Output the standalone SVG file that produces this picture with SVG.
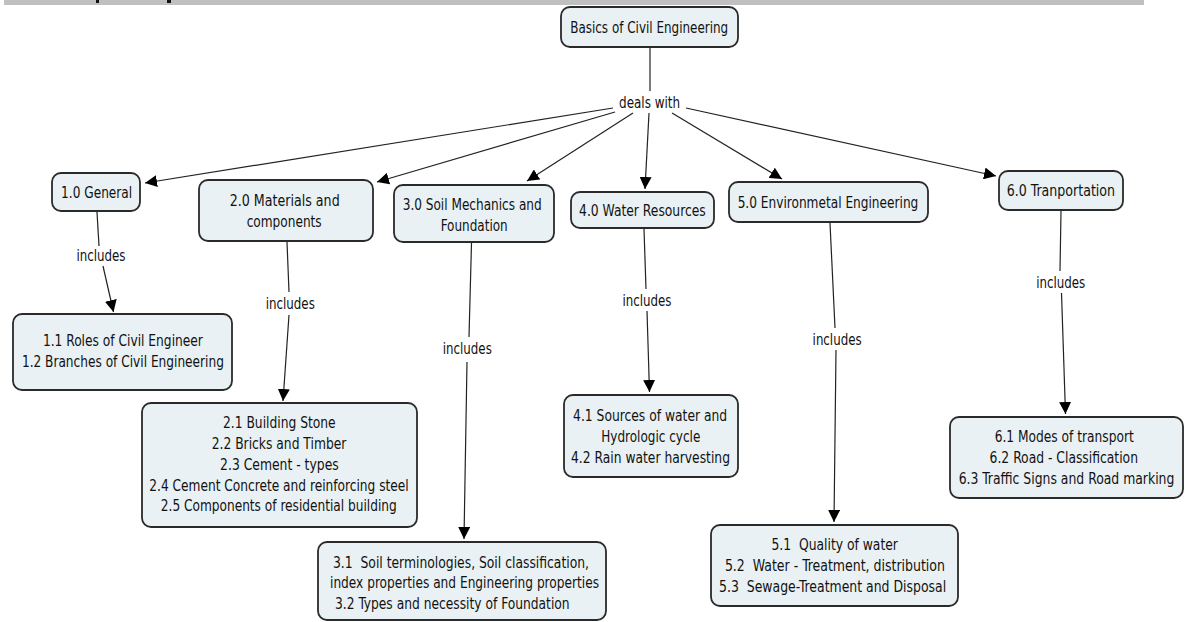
<svg xmlns="http://www.w3.org/2000/svg" width="1188" height="622" viewBox="0 0 1188 622">
<defs>
<marker id="arr" markerUnits="userSpaceOnUse" markerWidth="12" markerHeight="12" refX="12" refY="6" orient="auto">
<path d="M0,0 L12,6 L0,12 z" fill="#000"/>
</marker>
<style>
.box{fill:#e9f1f4;stroke:#2a2a2a;stroke-width:1.8}
.t{font-family:"DejaVu Sans Condensed","DejaVu Sans",sans-serif;font-size:16px;fill:#111;text-anchor:middle;white-space:pre}
.ts{font-family:"DejaVu Sans Condensed","DejaVu Sans",sans-serif;font-size:16px;fill:#111;text-anchor:start;white-space:pre}
.ln{stroke:#222;stroke-width:1.2;fill:none}
.ar{stroke:#222;stroke-width:1.2;fill:none;marker-end:url(#arr)}
</style>
</defs>
<rect width="1188" height="622" fill="#fff"/>
<g id="topbar">
<rect x="4" y="0" width="1140" height="5" fill="#c0c0c0"/>
<rect x="96" y="0" width="3" height="3" fill="#111"/>
<rect x="167" y="0" width="4" height="3" fill="#111"/>
</g>
<g id="connectors">
<line class="ln" x1="650" y1="47" x2="650" y2="91"/>
<text class="t" x="649.6" y="107.5" textLength="61" lengthAdjust="spacingAndGlyphs">deals with</text>
<line class="ar" x1="613" y1="108" x2="145" y2="183"/>
<line class="ar" x1="615" y1="112" x2="377" y2="182"/>
<line class="ar" x1="633" y1="113" x2="527" y2="181"/>
<line class="ar" x1="649" y1="113" x2="645" y2="189"/>
<line class="ar" x1="672" y1="113" x2="782" y2="179"/>
<line class="ar" x1="686" y1="108" x2="996" y2="176"/>
<line class="ln" x1="97" y1="212" x2="99" y2="246"/>
<text class="t" x="101" y="260.5" textLength="49" lengthAdjust="spacingAndGlyphs">includes</text>
<line class="ar" x1="103" y1="266" x2="113.5" y2="312"/>
<line class="ln" x1="287" y1="242" x2="289" y2="292"/>
<text class="t" x="290.3" y="308.5" textLength="49" lengthAdjust="spacingAndGlyphs">includes</text>
<line class="ar" x1="289" y1="315" x2="283" y2="401"/>
<line class="ln" x1="471.5" y1="243" x2="469" y2="337"/>
<text class="t" x="467.3" y="353.5" textLength="49" lengthAdjust="spacingAndGlyphs">includes</text>
<line class="ar" x1="467" y1="362" x2="464" y2="539"/>
<line class="ln" x1="644" y1="229" x2="646" y2="289"/>
<text class="t" x="647" y="305.5" textLength="49" lengthAdjust="spacingAndGlyphs">includes</text>
<line class="ar" x1="647" y1="311" x2="649.5" y2="392"/>
<line class="ln" x1="830" y1="223" x2="835" y2="328"/>
<text class="t" x="837.1" y="344.5" textLength="49" lengthAdjust="spacingAndGlyphs">includes</text>
<line class="ar" x1="836" y1="350" x2="834" y2="522"/>
<line class="ln" x1="1061" y1="211" x2="1060" y2="271"/>
<text class="t" x="1060.7" y="287.5" textLength="49" lengthAdjust="spacingAndGlyphs">includes</text>
<line class="ar" x1="1061.5" y1="293" x2="1065.5" y2="414"/>
</g>
<g id="root">
<rect class="box" x="561" y="7" width="177" height="40" rx="9"/>
<text class="t" x="649.2" y="32.5" textLength="158" lengthAdjust="spacingAndGlyphs">Basics of Civil Engineering</text>
</g>
<g id="n1">
<rect class="box" x="52" y="173" width="88" height="38" rx="9"/>
<text class="t" x="96.6" y="197.5" textLength="71" lengthAdjust="spacingAndGlyphs">1.0 General</text>
</g>
<g id="n2">
<rect class="box" x="199" y="180" width="174" height="61" rx="9"/>
<text class="t" x="284.7" y="205.5" textLength="110" lengthAdjust="spacingAndGlyphs">2.0 Materials and</text>
<text class="t" x="284.2" y="226.5" textLength="75" lengthAdjust="spacingAndGlyphs">components</text>
</g>
<g id="n3">
<rect class="box" x="394" y="185" width="160" height="57" rx="9"/>
<text class="t" x="472.2" y="209.5" textLength="139" lengthAdjust="spacingAndGlyphs">3.0 Soil Mechanics and</text>
<text class="t" x="474.2" y="230.5" textLength="67" lengthAdjust="spacingAndGlyphs">Foundation</text>
</g>
<g id="n4">
<rect class="box" x="571" y="192" width="143" height="36" rx="9"/>
<text class="t" x="642.4" y="216" textLength="126.7" lengthAdjust="spacingAndGlyphs">4.0 Water Resources</text>
</g>
<g id="n5">
<rect class="box" x="729" y="182" width="199" height="40" rx="9"/>
<text class="t" x="828" y="207.5" textLength="180.7" lengthAdjust="spacingAndGlyphs">5.0 Environmetal Engineering</text>
</g>
<g id="n6">
<rect class="box" x="999" y="171" width="124" height="39" rx="9"/>
<text class="t" x="1060.9" y="195.5" textLength="108.3" lengthAdjust="spacingAndGlyphs">6.0 Tranportation</text>
</g>
<g id="n11">
<rect class="box" x="13" y="314" width="219" height="76" rx="9"/>
<text class="t" x="122.9" y="345.5" textLength="160" lengthAdjust="spacingAndGlyphs">1.1 Roles of Civil Engineer</text>
<text class="t" x="122.9" y="366.5" textLength="202" lengthAdjust="spacingAndGlyphs">1.2 Branches of Civil Engineering</text>
</g>
<g id="n21">
<rect class="box" x="142" y="403" width="275" height="124" rx="9"/>
<text class="t" x="279.3" y="427.5" textLength="112.6" lengthAdjust="spacingAndGlyphs">2.1 Building Stone</text>
<text class="t" x="279" y="448.5" textLength="134.7" lengthAdjust="spacingAndGlyphs">2.2 Bricks and Timber</text>
<text class="t" x="279.4" y="469.5" textLength="118.6" lengthAdjust="spacingAndGlyphs">2.3 Cement - types</text>
<text class="t" x="279" y="490.5" textLength="259.5" lengthAdjust="spacingAndGlyphs">2.4 Cement Concrete and reinforcing steel</text>
<text class="t" x="278.8" y="511" textLength="236" lengthAdjust="spacingAndGlyphs">2.5 Components of residential building</text>
</g>
<g id="n31">
<rect class="box" x="318" y="542" width="288" height="78" rx="9"/>
<text class="ts" x="333" y="567.5" xml:space="preserve" textLength="256" lengthAdjust="spacingAndGlyphs">3.1  Soil terminologies, Soil classification,</text>
<text class="ts" x="330" y="588" textLength="269" lengthAdjust="spacingAndGlyphs">index properties and Engineering properties</text>
<text class="ts" x="335" y="608.5" textLength="234.6" lengthAdjust="spacingAndGlyphs">3.2 Types and necessity of Foundation</text>
</g>
<g id="n41">
<rect class="box" x="564" y="395" width="174" height="82" rx="9"/>
<text class="t" x="650.1" y="420.5" textLength="154" lengthAdjust="spacingAndGlyphs">4.1 Sources of water and</text>
<text class="t" x="650.8" y="441.5" textLength="99" lengthAdjust="spacingAndGlyphs">Hydrologic cycle</text>
<text class="t" x="650.5" y="462.5" textLength="159" lengthAdjust="spacingAndGlyphs">4.2 Rain water harvesting</text>
</g>
<g id="n51">
<rect class="box" x="711" y="525" width="247" height="81" rx="9"/>
<text class="t" x="834.7" y="549.5" xml:space="preserve" textLength="126.5" lengthAdjust="spacingAndGlyphs">5.1  Quality of water</text>
<text class="t" x="834.9" y="570.5" xml:space="preserve" textLength="220" lengthAdjust="spacingAndGlyphs">5.2  Water - Treatment, distribution</text>
<text class="t" x="832.6" y="591.5" xml:space="preserve" textLength="227" lengthAdjust="spacingAndGlyphs">5.3  Sewage-Treatment and Disposal</text>
</g>
<g id="n61">
<rect class="box" x="950" y="417" width="233" height="81" rx="9"/>
<text class="t" x="1064.2" y="442" textLength="139" lengthAdjust="spacingAndGlyphs">6.1 Modes of transport</text>
<text class="t" x="1063.8" y="463" textLength="148.4" lengthAdjust="spacingAndGlyphs">6.2 Road - Classification</text>
<text class="t" x="1066.5" y="484" textLength="215.7" lengthAdjust="spacingAndGlyphs">6.3 Traffic Signs and Road marking</text>
</g>
</svg>
